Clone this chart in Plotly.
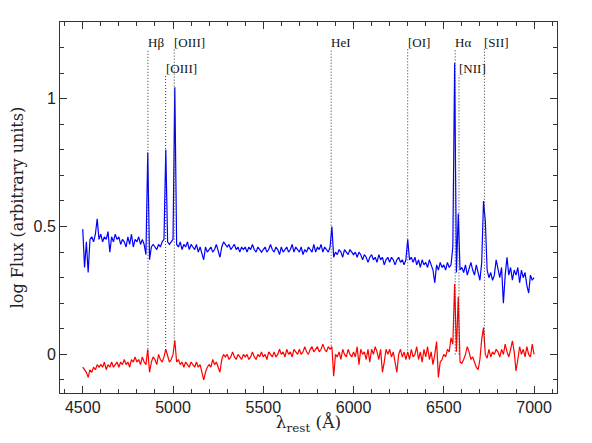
import numpy as np
import plotly.graph_objects as go

# rest-frame wavelength grid (Angstrom), 10 A step
wave = np.arange(4500, 7001, 10)

# upper spectrum (blue), log flux
flux_blue = [
    0.49, 0.34, 0.44, 0.32, 0.45, 0.46, 0.44, 0.47, 0.53, 0.45,
    0.47, 0.44, 0.46, 0.45, 0.48, 0.40, 0.46, 0.44, 0.47, 0.45,
    0.46, 0.43, 0.45, 0.44, 0.42, 0.46, 0.43, 0.47, 0.42, 0.45,
    0.44, 0.46, 0.43, 0.45, 0.43, 0.39, 0.79, 0.37, 0.42, 0.43,
    0.42, 0.41, 0.43, 0.42, 0.44, 0.45, 0.80, 0.44, 0.43, 0.44,
    0.45, 1.045, 0.43, 0.42, 0.44, 0.41, 0.43, 0.42, 0.44, 0.41,
    0.43, 0.42, 0.41, 0.43, 0.40, 0.42, 0.39, 0.37, 0.42, 0.40,
    0.41, 0.42, 0.40, 0.41, 0.43, 0.40, 0.38, 0.42, 0.44, 0.43,
    0.42, 0.43, 0.41, 0.42, 0.43, 0.41, 0.42, 0.40, 0.42, 0.41,
    0.42, 0.40, 0.42, 0.41, 0.43, 0.41, 0.40, 0.42, 0.41, 0.40,
    0.41, 0.42, 0.40, 0.41, 0.43, 0.41, 0.40, 0.42, 0.41, 0.39,
    0.42, 0.40, 0.41, 0.42, 0.40, 0.41, 0.43, 0.40, 0.42, 0.41,
    0.40, 0.42, 0.39, 0.41, 0.40, 0.42, 0.41, 0.40, 0.43, 0.40,
    0.42, 0.41, 0.43, 0.40, 0.42, 0.41, 0.40, 0.42, 0.50, 0.38,
    0.40, 0.39, 0.41, 0.40, 0.38, 0.41, 0.40, 0.39, 0.41, 0.40,
    0.39, 0.40, 0.38, 0.40, 0.39, 0.37, 0.39, 0.38, 0.36, 0.38,
    0.39, 0.37, 0.38, 0.36, 0.39, 0.37, 0.38, 0.35, 0.37, 0.38,
    0.36, 0.38, 0.37, 0.35, 0.37, 0.38, 0.36, 0.37, 0.35, 0.37,
    0.45, 0.37, 0.38, 0.36, 0.38, 0.35, 0.37, 0.34, 0.37, 0.35,
    0.36, 0.34, 0.37, 0.35, 0.33, 0.28, 0.35, 0.33, 0.36, 0.34,
    0.35, 0.33, 0.36, 0.34, 0.35, 0.42, 1.14, 0.32, 0.55, 0.33,
    0.34, 0.32, 0.35, 0.31, 0.34, 0.36, 0.33, 0.31, 0.35, 0.32,
    0.29, 0.36, 0.60, 0.52, 0.33, 0.30, 0.32, 0.29, 0.31, 0.37,
    0.33, 0.30, 0.34, 0.20, 0.31, 0.38, 0.31, 0.34, 0.29, 0.33,
    0.31, 0.34, 0.28, 0.33, 0.30, 0.32, 0.27, 0.24, 0.31, 0.29,
    0.30,
]

# lower spectrum (red), log flux
flux_red = [
    -0.05, -0.06, -0.07, -0.09, -0.06, -0.07, -0.05, -0.06, -0.04, -0.05,
    -0.04, -0.05, -0.03, -0.06, -0.04, -0.05, -0.03, -0.05, -0.04, -0.03,
    -0.05, -0.03, -0.04, -0.02, -0.04, -0.03, -0.05, -0.02, -0.03, -0.01,
    -0.03, -0.02, -0.04, -0.01, -0.03, -0.04, 0.02, -0.07, -0.03, -0.01,
    -0.02, -0.04, 0.00, -0.02, -0.03, -0.01, 0.02, -0.01, -0.03, -0.02,
    0.00, 0.055, -0.03, -0.02, -0.04, -0.03, -0.05, -0.03, -0.04, -0.05,
    -0.03, -0.04, -0.05, -0.03, -0.05, -0.04, -0.07, -0.10, -0.07, -0.05,
    -0.04, -0.05, -0.02, -0.04, -0.03, -0.05, -0.07, -0.02, 0.00, -0.01,
    0.00, -0.02, -0.01, 0.01, -0.01, -0.02, 0.00, -0.01, -0.02, 0.00,
    -0.01, 0.00, -0.02, -0.01, 0.01, -0.01, -0.02, 0.00, -0.01, 0.01,
    -0.01, 0.00, -0.02, 0.01, 0.00, -0.01, 0.01, -0.01, 0.00, 0.02,
    0.00, 0.01, -0.01, 0.02, 0.00, 0.01, -0.01, 0.02, 0.01, 0.00,
    0.02, 0.00, 0.01, 0.03, 0.01, 0.00, 0.02, 0.03, 0.01, 0.02,
    0.03, 0.01, 0.02, 0.04, 0.02, 0.01, 0.03, 0.02, 0.03, -0.085,
    0.00, -0.01, 0.01, -0.02, 0.02, 0.00, -0.01, 0.02, 0.00, -0.01,
    0.01, -0.01, 0.03, -0.04, 0.02, 0.00, 0.01, -0.02, 0.02, -0.03,
    0.02, 0.00, 0.03, 0.01, -0.02, 0.02, -0.07, -0.03, 0.02, 0.00,
    0.02, -0.01, 0.01, -0.03, -0.07, 0.00, 0.02, -0.01, 0.01, -0.02,
    0.01, -0.02, 0.02, -0.01, 0.00, 0.03, -0.02, 0.01, -0.03, 0.02,
    -0.01, 0.03, -0.02, 0.01, -0.04, 0.00, 0.05, -0.09, -0.03, -0.02,
    0.00, -0.01, 0.02, 0.01, 0.065, 0.04, 0.275, 0.01, 0.225, -0.03,
    -0.035, -0.02, 0.00, 0.03, 0.01, -0.02, -0.01, -0.03, -0.05, -0.06,
    -0.02, 0.06, 0.105, 0.00, -0.015, 0.02, -0.01, 0.01, 0.00, 0.02,
    0.01, -0.01, 0.02, 0.00, 0.04, 0.01, -0.01, 0.02, 0.053, 0.01,
    -0.065, -0.02, 0.03, 0.00, 0.02, -0.01, 0.03, 0.00, -0.01, 0.04,
    0.00,
]

# emission line identifications
line_wave = [4861, 4959, 5007, 5876, 6300, 6563, 6584, 6725]
line_name = ["H\u03b2", "[OIII]", "[OIII]", "HeI", "[OI]", "H\u03b1", "[NII]", "[SII]"]
line_top = [1.195, 1.093, 1.195, 1.195, 1.195, 1.195, 1.093, 1.195]
line_bottom = [0.01, 0.017, 0.05, 0.034, 0.004, 0.0, 0.0, 0.03]

fig = go.Figure()

fig.add_trace(go.Scatter(x=wave, y=flux_blue, mode='lines',
                         line=dict(color='#0000ff', width=1.2)))
fig.add_trace(go.Scatter(x=wave, y=flux_red, mode='lines',
                         line=dict(color='#ff0000', width=1.2)))

# dotted markers for the lines
xs, ys = [], []
for w, b, t in zip(line_wave, line_bottom, line_top):
    xs += [w, w, None]
    ys += [b, t, None]
fig.add_trace(go.Scatter(x=xs, y=ys, mode='lines',
                         line=dict(color='#333333', width=1, dash='1px,2px')))

for w, name, t in zip(line_wave, line_name, line_top):
    fig.add_annotation(x=w, y=t, text=name, showarrow=False,
                       xanchor='left', yanchor='bottom', xshift=-2, yshift=-3,
                       font=dict(family='Liberation Serif', size=13, color='#111111'))

axis_common = dict(
    showgrid=False, zeroline=False, showline=True, linecolor='#333333', linewidth=1,
    mirror='allticks', ticks='inside', ticklen=7, tickcolor='#333333', automargin=False,
    tickfont=dict(family='Liberation Sans', size=16, color='#222222'),
)

fig.update_xaxes(range=[4374, 7127], tickmode='linear', tick0=4500, dtick=500,
                 minor=dict(dtick=100, tick0=4500, ticks='inside', ticklen=4, tickcolor='#333333'),
                 title=dict(text='\u03bb<sub>rest</sub> (\u00c5)', standoff=8,
                            font=dict(family='DejaVu Serif', size=17, color='#222222')),
                 **axis_common)
fig.update_yaxes(range=[-0.151, 1.30], tickmode='linear', tick0=0, dtick=0.5,
                 minor=dict(dtick=0.1, tick0=0, ticks='inside', ticklen=4, tickcolor='#333333'),
                 title=dict(text='log Flux (arbitrary units)', standoff=6,
                            font=dict(family='DejaVu Serif', size=16, color='#222222')),
                 **axis_common)

# the page body has an 8px margin, so the figure is shrunk to fit inside it
fig.update_layout(
    width=576, height=427,
    margin=dict(l=52, r=27, t=14, b=42),
    showlegend=False,
    plot_bgcolor='white', paper_bgcolor='white',
)

fig.write_html("out.html")
